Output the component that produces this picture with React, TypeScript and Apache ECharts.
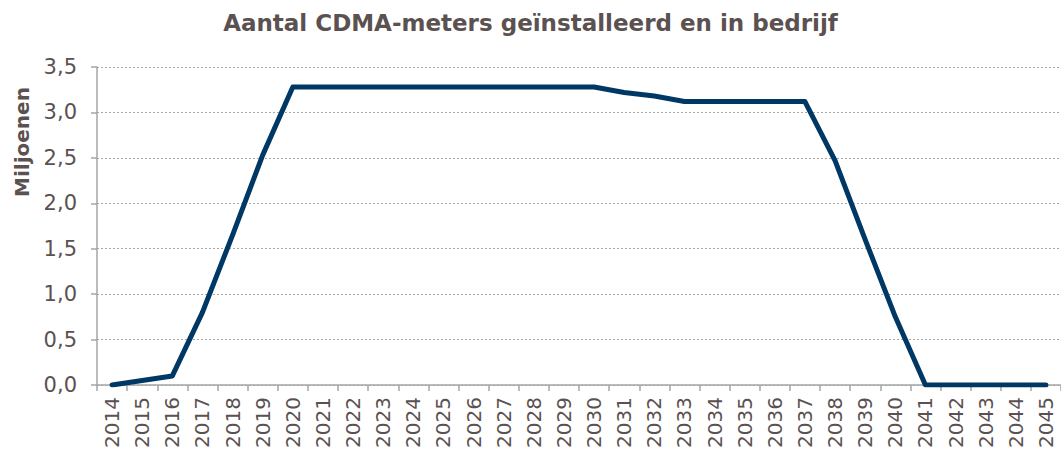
import React, { useEffect, useRef } from "react";
import * as echarts from "echarts";

const years: string[] = [
  "2014", "2015", "2016", "2017", "2018", "2019", "2020", "2021", "2022", "2023", "2024",
  "2025", "2026", "2027", "2028", "2029", "2030", "2031", "2032", "2033", "2034", "2035",
  "2036", "2037", "2038", "2039", "2040", "2041", "2042", "2043", "2044", "2045",
];
const meters: number[] = [
  0, 0.05, 0.1, 0.8, 1.65, 2.53, 3.28, 3.28, 3.28, 3.28, 3.28,
  3.28, 3.28, 3.28, 3.28, 3.28, 3.28, 3.22, 3.18, 3.12, 3.12, 3.12,
  3.12, 3.12, 2.47, 1.6, 0.75, 0, 0, 0, 0, 0,
];
const titleText = "Aantal CDMA-meters geïnstalleerd en in bedrijf";
const yAxisTitle = "Miljoenen";

const textColor = "#5b5151";
const axisColor = "#a6a6a6";

export default function App() {
  const ref = useRef<HTMLDivElement>(null);
  useEffect(() => {
    if (!ref.current) return;
    const chart = echarts.init(ref.current, undefined, { renderer: "svg" });
    chart.setOption({
      animation: false,
      backgroundColor: "#ffffff",
      textStyle: { fontFamily: "DejaVu Sans" },
      title: {
        text: titleText,
        left: "center",
        top: 6,
        textStyle: { fontSize: 23, fontWeight: "bold", color: textColor, fontFamily: "DejaVu Sans" },
      },
      graphic: [
        {
          type: "text",
          x: 22,
          y: 142,
          rotation: Math.PI / 2,
          style: {
            text: yAxisTitle,
            fontSize: 20,
            fontWeight: "bold",
            fill: textColor,
            fontFamily: "DejaVu Sans",
            align: "center",
            verticalAlign: "middle",
          },
        },
      ],
      grid: { left: 97, right: 0, top: 67, bottom: 71, containLabel: false },
      xAxis: {
        type: "category",
        data: years,
        boundaryGap: true,
        axisLine: { show: true, lineStyle: { color: axisColor, width: 1.5 } },
        axisTick: { show: true, alignWithLabel: false, length: 6, lineStyle: { color: axisColor, width: 1.5 } },
        axisLabel: { rotate: 90, interval: 0, fontSize: 20, color: textColor, margin: 12, fontFamily: "DejaVu Sans" },
        splitLine: { show: false },
      },
      yAxis: {
        type: "value",
        min: 0,
        max: 3.5,
        interval: 0.5,
        axisLine: { show: true, lineStyle: { color: axisColor, width: 1.5 } },
        axisTick: { show: true, length: 6, lineStyle: { color: axisColor, width: 1.5 } },
        axisLabel: {
          fontSize: 21,
          color: textColor,
          margin: 20,
          fontFamily: "DejaVu Sans",
          formatter: (v: number) => v.toFixed(1).replace(".", ","),
        },
        splitLine: { show: true, lineStyle: { color: axisColor, type: [2, 2], width: 1 } },
      },
      series: [
        {
          type: "line",
          data: meters,
          symbol: "none",
          lineStyle: { color: "#003865", width: 5, join: "round", cap: "round" },
        },
      ],
    });
    return () => chart.dispose();
  }, []);
  return (
    <div
      ref={ref}
      style={{ position: "fixed", left: 0, top: 0, width: 1061, height: 456 }}
    />
  );
}
